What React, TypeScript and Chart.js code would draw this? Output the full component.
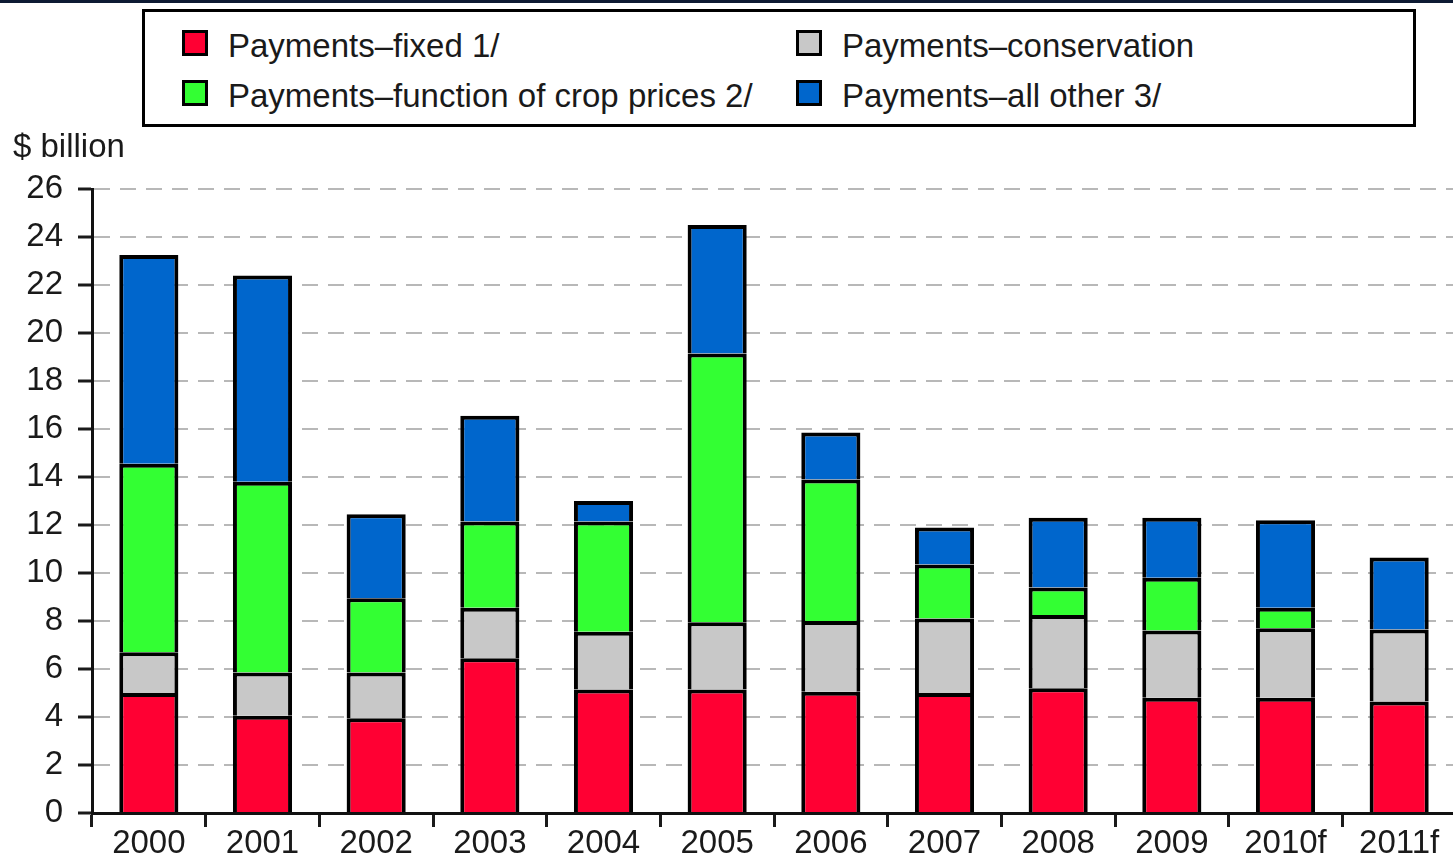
import React, { useEffect, useRef } from "react";
import { Chart, registerables } from "chart.js";

Chart.register(...registerables);

const categories = ["2000", "2001", "2002", "2003", "2004", "2005", "2006", "2007", "2008", "2009", "2010f", "2011f"];
const paymentsFixed = [5.0, 4.05, 3.95, 6.45, 5.15, 5.15, 5.05, 5.0, 5.2, 4.8, 4.8, 4.65];
const paymentsConservation = [1.7, 1.8, 1.9, 2.1, 2.4, 2.8, 2.95, 3.1, 3.05, 2.8, 2.9, 3.0];
const paymentsCropPrices = [7.85, 7.95, 3.1, 3.6, 4.6, 11.2, 5.9, 2.25, 1.15, 2.2, 0.85, 0];
const paymentsAllOther = [8.7, 8.6, 3.5, 4.4, 0.85, 5.35, 1.95, 1.55, 2.9, 2.5, 3.65, 3.0];

const seriesLabels = [
  "Payments\u2013fixed 1/",
  "Payments\u2013conservation",
  "Payments\u2013function of crop prices 2/",
  "Payments\u2013all other 3/",
];
const seriesColors = ["#ff0033", "#c8c8c8", "#33ff33", "#0066cc"];
const yTicks = { min: 0, max: 26, step: 2 };
const yTitle = "$ billion";

const FONT = "'Liberation Sans', Arial, sans-serif";

export default function App() {
  const canvasRef = useRef<HTMLCanvasElement | null>(null);

  useEffect(() => {
    const canvas = canvasRef.current;
    if (!canvas) return;
    const values = [paymentsFixed, paymentsConservation, paymentsCropPrices, paymentsAllOther];
    const chart = new Chart(canvas, {
      type: "bar",
      data: {
        labels: categories,
        datasets: values.map((v, i) => ({
          label: seriesLabels[i],
          data: v,
          backgroundColor: seriesColors[i],
          borderColor: "#000000",
          borderWidth: 4,
          categoryPercentage: 1,
          barPercentage: 0.52,
        })),
      },
      options: {
        responsive: false,
        animation: false,
        devicePixelRatio: 1,
        layout: { padding: { top: 189, left: 0, right: 0, bottom: 0 } },
        plugins: {
          legend: { display: false },
          tooltip: { enabled: false },
        },
        scales: {
          x: {
            stacked: true,
            grid: {
              display: true,
              drawOnChartArea: false,
              drawTicks: true,
              tickLength: 14,
              tickColor: "#1a1a1a",
              tickWidth: 3,
              offset: true,
            },
            border: { display: true, color: "#111111", width: 3 },
            ticks: {
              color: "#1a1a1a",
              padding: 0,
              font: { family: FONT, size: 33, lineHeight: 1 },
              maxRotation: 0,
              autoSkip: false,
            },
            afterFit: (scale: any) => {
              scale.height = 45;
            },
          },
          y: {
            stacked: true,
            min: yTicks.min,
            max: yTicks.max,
            grid: {
              color: (ctx: any) => (ctx.tick && ctx.tick.value === 0 ? "rgba(0,0,0,0)" : "#b8b8b8"),
              lineWidth: 2,
              drawTicks: true,
              tickLength: 14,
              tickColor: "#1a1a1a",
              tickWidth: 3,
            },
            border: { display: true, color: "#111111", width: 3, dash: [16, 10] },
            ticks: {
              stepSize: yTicks.step,
              color: "#1a1a1a",
              padding: 15,
              font: { family: FONT, size: 33, lineHeight: 1 },
            },
            afterFit: (scale: any) => {
              scale.width = 92;
            },
          },
        },
      },
    });
    return () => chart.destroy();
  }, []);

  const textStyle: React.CSSProperties = {
    position: "absolute",
    fontFamily: FONT,
    fontSize: 33,
    lineHeight: "33px",
    color: "#1a1a1a",
    whiteSpace: "nowrap",
  };
  const swatch = (left: number, top: number, color: string): React.CSSProperties => ({
    position: "absolute",
    left,
    top,
    width: 26,
    height: 26,
    boxSizing: "border-box",
    border: "3px solid #000",
    background: color,
  });

  return (
    <div
      style={{
        position: "absolute",
        left: 0,
        top: 0,
        width: 1453,
        height: 858,
        overflow: "hidden",
        background: "#ffffff",
      }}
    >
      <canvas ref={canvasRef} width={1456} height={858} style={{ position: "absolute", left: 0, top: 0, width: 1456, height: 858 }} />
      <div style={{ position: "absolute", left: 0, top: 0, width: 1453, height: 3, background: "#0d1a33" }} />
      <div
        style={{
          position: "absolute",
          left: 142,
          top: 9,
          width: 1274,
          height: 118,
          boxSizing: "border-box",
          border: "3px solid #000",
          background: "#ffffff",
        }}
      />
      <div style={swatch(182, 30, seriesColors[0])} />
      <div style={{ ...textStyle, left: 228, top: 29 }}>{seriesLabels[0]}</div>
      <div style={swatch(182, 80, seriesColors[2])} />
      <div style={{ ...textStyle, left: 228, top: 79 }}>{seriesLabels[2]}</div>
      <div style={swatch(796, 30, seriesColors[1])} />
      <div style={{ ...textStyle, left: 842, top: 29 }}>{seriesLabels[1]}</div>
      <div style={swatch(796, 80, seriesColors[3])} />
      <div style={{ ...textStyle, left: 842, top: 79 }}>{seriesLabels[3]}</div>
      <div style={{ ...textStyle, left: 13, top: 129 }}>{yTitle}</div>
    </div>
  );
}
